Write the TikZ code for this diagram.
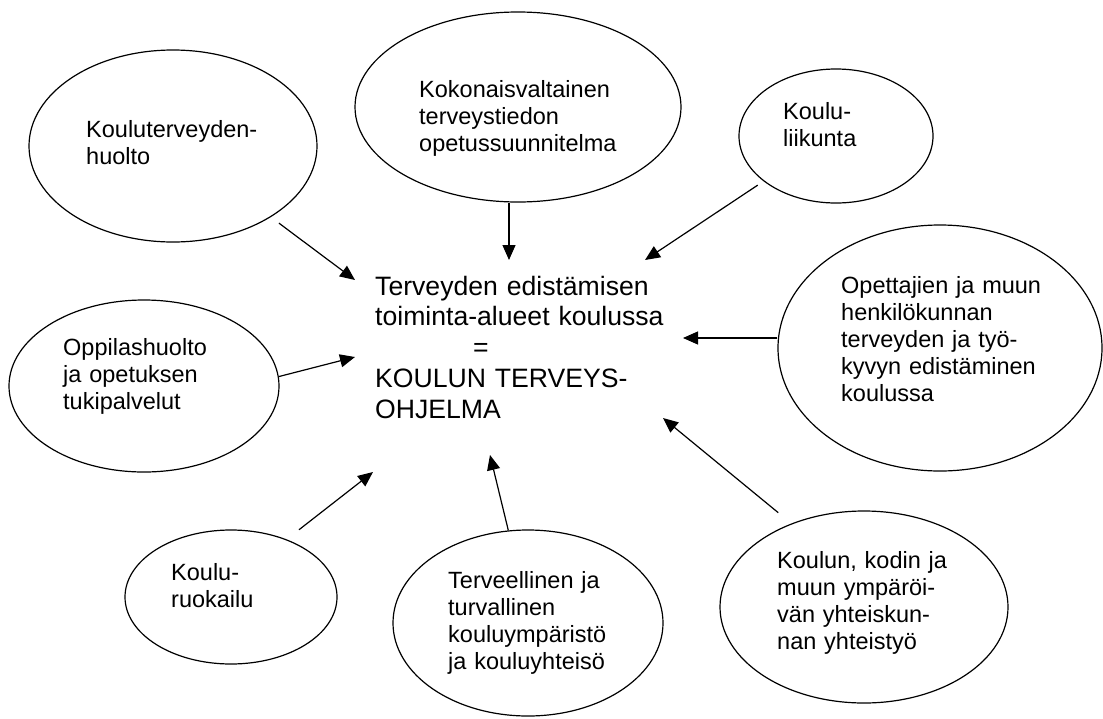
\documentclass[tikz,border=0pt]{standalone}
\usepackage{fontspec}
\setmainfont{Liberation Sans}
\usetikzlibrary{shapes.geometric,arrows.meta}
\tikzset{
  oval/.style={ellipse,draw,line width=1.2pt,inner sep=0pt},
  lbl/.style={anchor=base west,inner sep=0pt,text width=320pt,align=left,
    font=\fontsize{23.5}{27}\selectfont},
  mid/.style={anchor=base west,inner sep=0pt,text width=340pt,align=left,
    font=\fontsize{26.6}{30.75}\selectfont},
  conn/.style={line width=1.2pt,-{Triangle[length=15pt,width=13pt]}}
}
\begin{document}
\begin{tikzpicture}[x=1pt,y=-1pt]
\useasboundingbox (0,0) rectangle (1103,718);
% ellipses
\node[oval,minimum width=288pt,minimum height=192pt] (e1) at (173,146) {};
\node[oval,minimum width=326pt,minimum height=190pt] (e2) at (518,107) {};
\node[oval,minimum width=194pt,minimum height=134pt] (e3) at (836,136) {};
\node[oval,minimum width=324pt,minimum height=246pt] (e4) at (940,348) {};
\node[oval,minimum width=270pt,minimum height=172pt] (e5) at (144,386) {};
\node[oval,minimum width=212pt,minimum height=134pt] (e6) at (231,597) {};
\node[oval,minimum width=270pt,minimum height=186pt] (e7) at (528,623) {};
\node[oval,minimum width=288pt,minimum height=192pt] (e8) at (864,607) {};
% labels
\node[lbl] (l1) at (86,137) {Kouluterveyden-\\huolto};
\node[lbl] (l2) at (419,97) {Kokonaisvaltainen\\terveystiedon\\opetussuunnitelma};
\node[lbl] (l3) at (783,119) {Koulu-\\liikunta};
\node[lbl] (l4) at (841,293) {Opettajien ja muun\\henkilökunnan\\terveyden ja työ-\\kyvyn edistäminen\\koulussa};
\node[lbl] (l5) at (63,355) {Oppilashuolto\\ja opetuksen\\tukipalvelut};
\node[lbl] (l6) at (171,580) {Koulu-\\ruokailu};
\node[lbl] (l7) at (448,588) {Terveellinen ja\\turvallinen\\kouluympäristö\\ja kouluyhteisö};
\node[lbl] (l8) at (777,568) {Koulun, kodin ja\\muun ympäröi-\\vän yhteiskun-\\nan yhteistyö};
% centre
\node[mid] (c) at (375,295) {Terveyden edistämisen\\toiminta-alueet koulussa\\\hspace*{98pt}=\\KOULUN TERVEYS-\\OHJELMA};
% arrow tips
\coordinate (t1) at (355,280);
\coordinate (t2) at (509,260);
\coordinate (t3) at (645,260);
\coordinate (t4) at (683,338);
\coordinate (t5) at (355,357);
\coordinate (t6) at (373,472);
\coordinate (t7) at (490,455);
\coordinate (t8) at (663,418);
% connectors
\draw[conn,shorten <=10pt] (e1.-36) -- (t1);
\draw[conn] (t2 |- e2.south) -- (t2);
\draw[conn,shorten <=7pt] (e3.212) -- (t3);
\draw[conn] (t4 -| e4.west) -- (t4);
\draw[conn] (e5.4) -- (t5);
\draw[conn,shorten <=15.6pt] (e6.46) -- (t6);
\draw[conn] (e7.102) -- (t7);
\draw[conn,shorten <=17pt] (e8.131) -- (t8);
\end{tikzpicture}
\end{document}
